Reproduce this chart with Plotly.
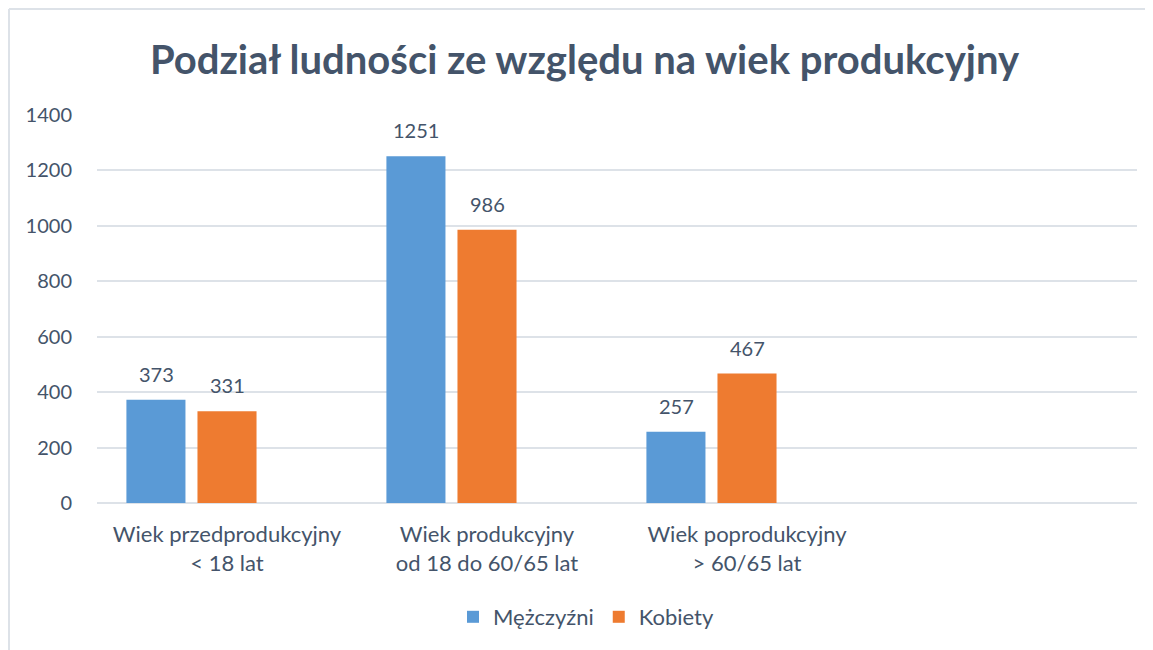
import plotly.graph_objects as go

categories = [
    "Wiek przedprodukcyjny<br>&lt; 18 lat",
    "Wiek produkcyjny<br>od 18 do 60/65 lat",
    "Wiek poprodukcyjny<br>&gt; 60/65 lat",
    " ",
]
men = [373, 1251, 257, None]
women = [331, 986, 467, None]
empty_series = [None, None, None, None]
series_names = ["Mężczyźni", "Kobiety"]

TEXT = "#44546A"
FONT = "Lato"
W, H = 1137, 642
L, R, T, B = 89, 8, 107, 147
PW, PH = W - L - R, H - T - B

fig = go.Figure()
fig.add_trace(go.Bar(x=categories, y=men, name=series_names[0],
                     marker=dict(color="#5A9AD6", line=dict(width=0))))
fig.add_trace(go.Bar(x=categories, y=women, name=series_names[1],
                     marker=dict(color="#EE7B30", line=dict(width=0))))
fig.add_trace(go.Bar(x=categories, y=empty_series, name="", showlegend=False,
                     marker=dict(color="rgba(0,0,0,0)")))

# data labels above bars
for vals, shift in ((men, -71), (women, 0)):
    for c, v in zip(categories, vals):
        if v is None:
            continue
        fig.add_annotation(x=c, y=v, xref="x", yref="y", text=str(v),
                           showarrow=False, xshift=shift, yshift=12,
                           yanchor="bottom",
                           font=dict(family=FONT, size=20, color=TEXT))

fig.update_layout(
    width=W, height=H,
    margin=dict(l=L, r=R, t=T, b=B),
    paper_bgcolor="white", plot_bgcolor="white",
    barmode="group", bargap=0.18, bargroupgap=0.169,
    title=dict(text="<b>Podział ludności ze względu na wiek produkcyjny</b>",
               x=576.5 / W, xanchor="center", y=1 - 52 / H, yanchor="middle",
               font=dict(family=FONT, size=40, color=TEXT)),
    font=dict(family=FONT, size=20, color=TEXT),
    legend=dict(orientation="h", x=578 / W, xanchor="center",
                xref="container", yref="container",
                y=1 - 609 / H, yanchor="middle",
                font=dict(family=FONT, size=22, color=TEXT),
                itemclick=False),
    showlegend=True,
)
fig.update_xaxes(showgrid=False, showline=False, ticks="",
                 ticklabelstandoff=16,
                 tickfont=dict(family=FONT, size=22, color=TEXT))
fig.update_yaxes(range=[0, 1400], dtick=200, showgrid=True,
                 gridcolor="#DDE2E8", gridwidth=1.5,
                 zeroline=True, zerolinecolor="#DDE2E8", zerolinewidth=1.5,
                 showline=False, ticks="", ticklabelstandoff=24,
                 tickfont=dict(family=FONT, size=20, color=TEXT))

# chart-area border (left and top edges only)
bx = -(L - 1) / PW
by = (PH + T - 1) / PH
fig.add_shape(type="line", xref="paper", yref="paper",
              x0=bx, x1=bx, y0=-B / PH, y1=by,
              line=dict(color="#DDE2E8", width=2))
fig.add_shape(type="line", xref="paper", yref="paper",
              x0=bx, x1=(PW + R) / PW, y0=by, y1=by,
              line=dict(color="#DDE2E8", width=2))

fig.write_html("out.html")
